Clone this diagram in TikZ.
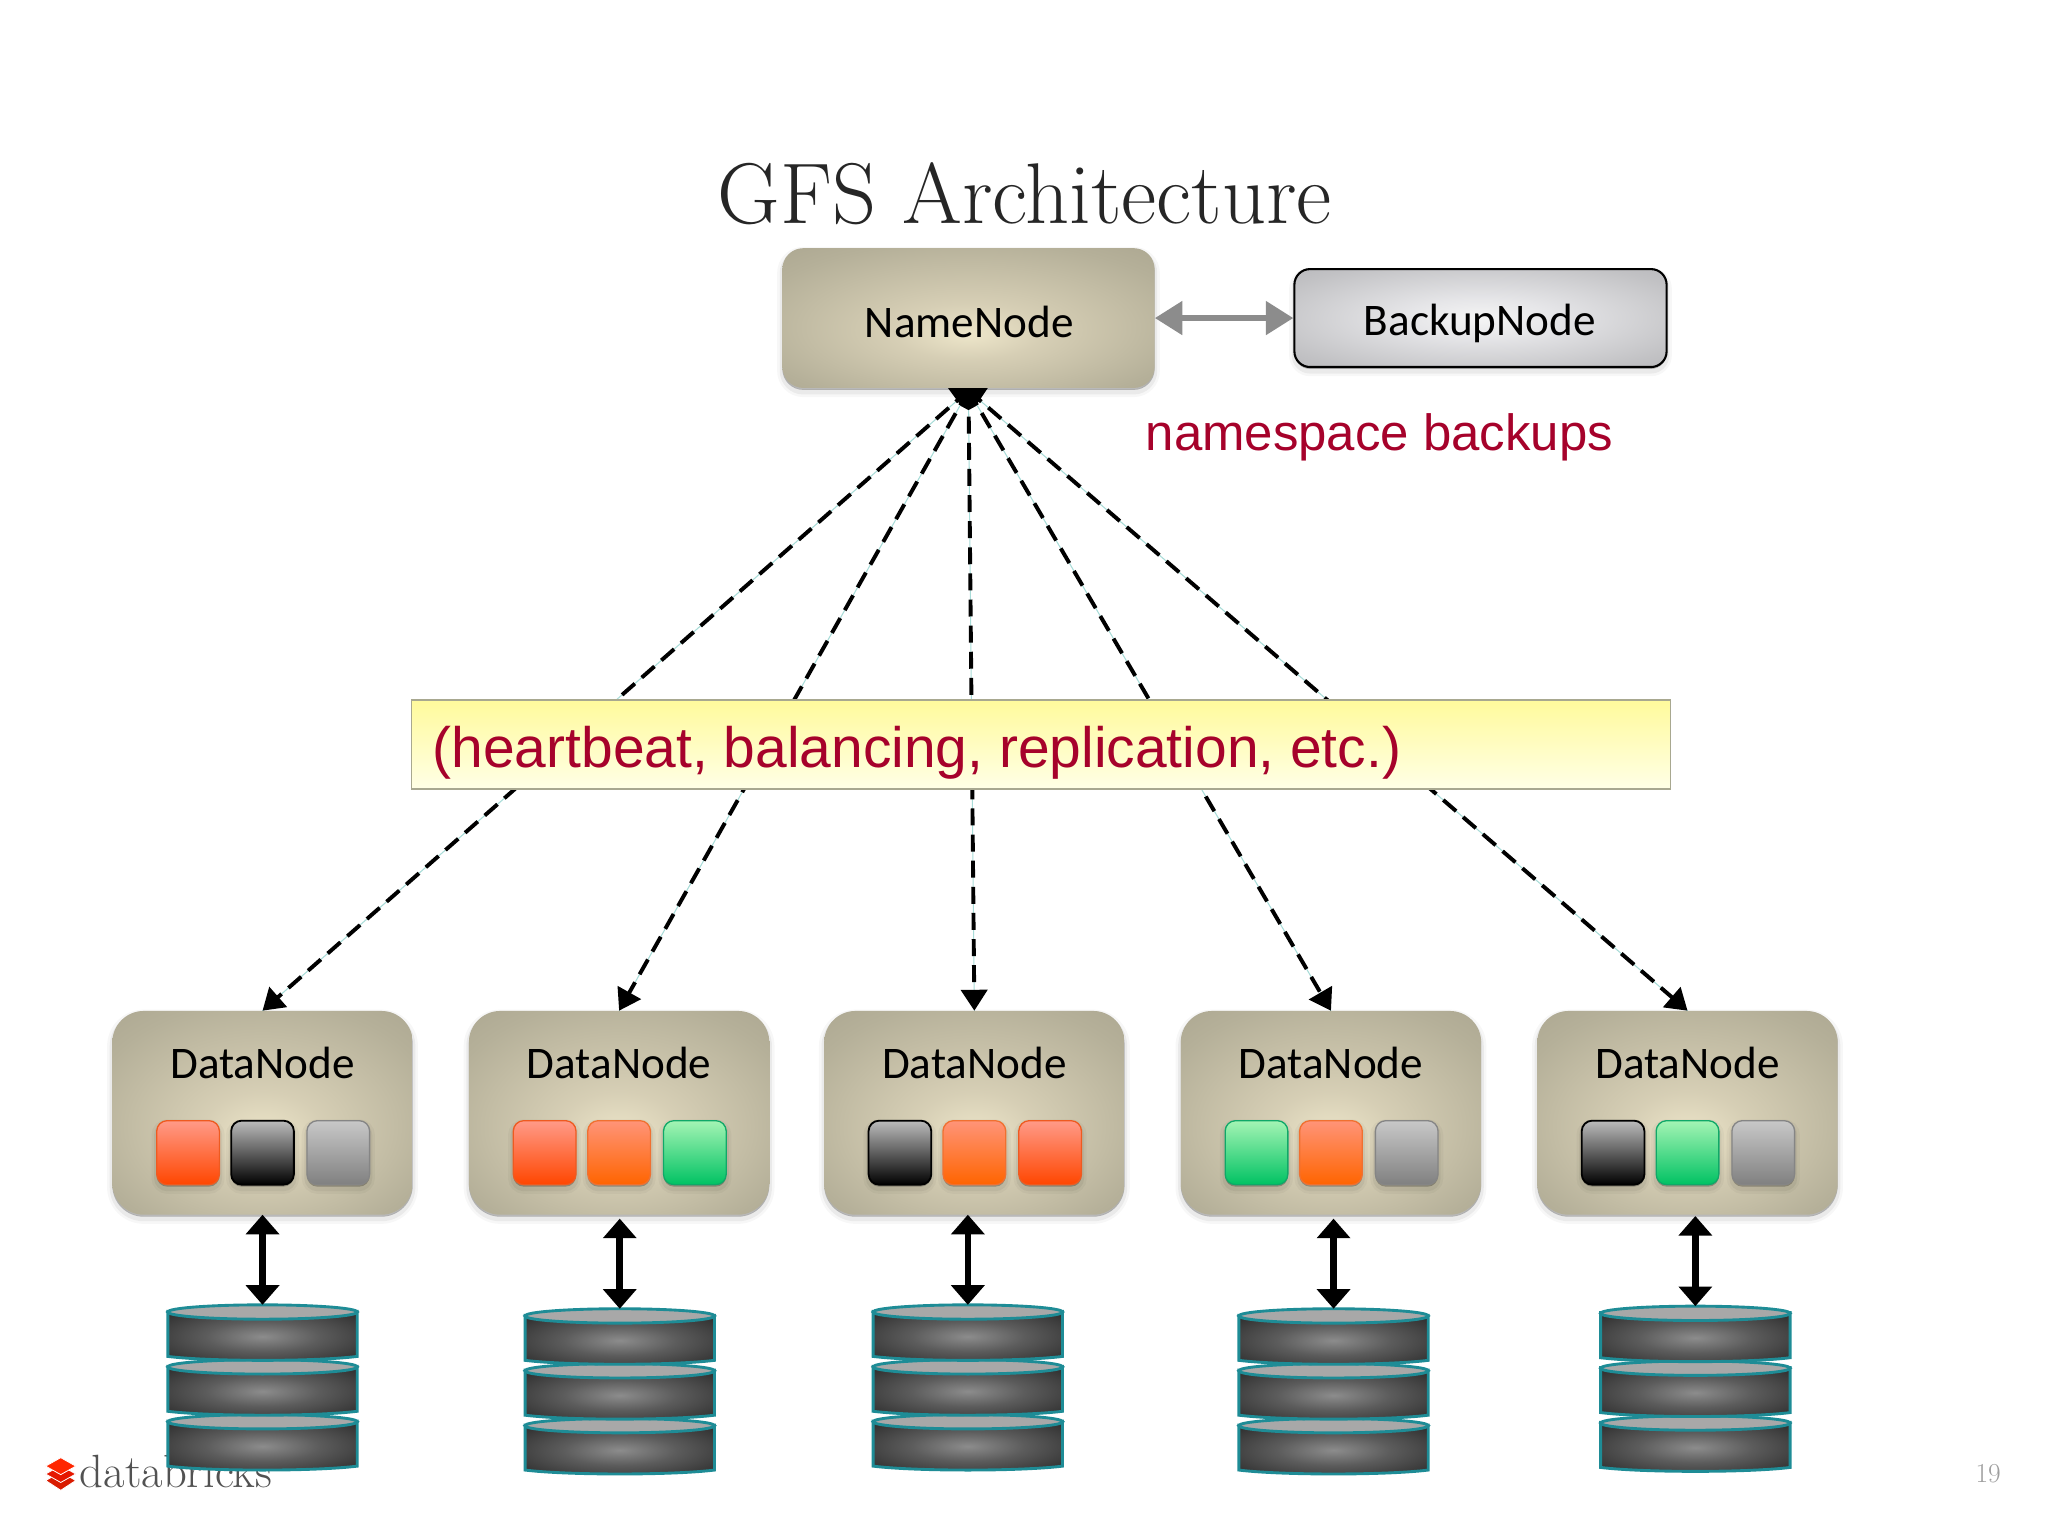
\documentclass[tikz,border=0pt]{standalone}
\usepackage{fontspec}
\usetikzlibrary{arrows.meta}
\newfontfamily\carl{Carlito}
\newfontfamily\ari{Liberation Sans}
\definecolor{redtxt}{HTML}{A6022B}
\definecolor{teal1}{HTML}{1E8C96}
\definecolor{thinc}{HTML}{A8DCD8}
\definecolor{rT}{HTML}{FF9A88}\definecolor{rB}{HTML}{FF4600}\definecolor{rD}{HTML}{EE5A20}
\definecolor{oT}{HTML}{FF9478}\definecolor{oB}{HTML}{FF6400}\definecolor{oD}{HTML}{F07030}
\definecolor{gT}{HTML}{A4F4B4}\definecolor{gB}{HTML}{00C263}\definecolor{gD}{HTML}{10A868}
\definecolor{kT}{HTML}{BCBCBC}\definecolor{yT}{HTML}{C8C8C8}\definecolor{yB}{HTML}{808080}\definecolor{yD}{HTML}{858585}
\definecolor{bandT}{HTML}{FFFA9C}\definecolor{bandB}{HTML}{FFFFE6}\definecolor{bandD}{HTML}{A8A890}
\pgfdeclareradialshading{ndshade}{\pgfpoint{0bp}{-6bp}}{rgb(0bp)=(.93,.90,.79); rgb(10bp)=(.84,.81,.71); rgb(30bp)=(.71,.69,.60); rgb(50bp)=(.62,.60,.52)}
\pgfdeclareradialshading{bkshade}{\pgfpoint{0bp}{0bp}}{rgb(0bp)=(.96,.96,.96); rgb(10bp)=(.90,.90,.91); rgb(30bp)=(.76,.76,.77); rgb(50bp)=(.65,.65,.67)}
\pgfdeclareradialshading{diskshade}{\pgfpoint{0bp}{0bp}}{rgb(0bp)=(.55,.55,.55); rgb(15bp)=(.36,.36,.36); rgb(32bp)=(.20,.20,.20); rgb(50bp)=(.10,.10,.10)}
\tikzset{
  softshadow/.style={
    preaction={draw=black,draw opacity=.03,line width=8,transform canvas={yshift=-3pt}},
    preaction={draw=black,draw opacity=.05,line width=4,transform canvas={yshift=-3pt}},
    preaction={fill=black,fill opacity=.25,transform canvas={yshift=-1.5pt}}},
  namebox/.style={softshadow,rounded corners=16,shading=ndshade,minimum width=285,minimum height=107,inner sep=0pt},
  backbox/.style={softshadow,rounded corners=12,draw=black,line width=1.6,shading=bkshade,minimum width=285,minimum height=75,inner sep=0pt},
  datanode/.style={softshadow,rounded corners=24,shading=ndshade,minimum width=230,minimum height=156,inner sep=0pt},
  nodelabel/.style={font=\carl\fontsize{34.6}{38}\selectfont,text=black,inner sep=0pt},
  block/.style={softshadow,rounded corners=8,minimum width=48,minimum height=49,inner sep=0pt,line width=1},
  cR/.style={top color=rT,bottom color=rB,draw=rD},
  cO/.style={top color=oT,bottom color=oB,draw=oD},
  cG/.style={top color=gT,bottom color=gB,draw=gD},
  cK/.style={top color=kT,bottom color=black,draw=black,line width=1.4},
  cY/.style={top color=yT,bottom color=yB,draw=yD},
  fan/.style={draw=black,line width=3,dash pattern=on 13pt off 7pt,
    -{Triangle[length=16pt,width=20pt]},
    preaction={draw=thinc,line width=.8,solid,arrows=-}},
  dbl/.style={draw=black,line width=5,{Triangle[length=15pt,width=25pt]}-{Triangle[length=15pt,width=25pt]}},
  grey/.style={draw=black!45,line width=4.5,{Triangle[length=21pt,width=25pt]}-{Triangle[length=21pt,width=25pt]}},
  disk/.style={draw=teal1,line width=2.2,shading=diskshade},
  disktop/.style={draw=teal1,line width=2.2,fill=black!34},
}
% one disk of a stack: centre x, top y
\newcommand\onedisk[2]{%
  \path[disk] (#1-72.5,#2+5) -- (#1-72.5,#2+39.5) .. controls (#1-40,#2+43.5) and (#1+40,#2+43.5) .. (#1+72.5,#2+39.5) -- (#1+72.5,#2+5) -- cycle;
  \path[disktop] (#1,#2+5.5) ellipse [x radius=72.5,y radius=5.5];}
\newcommand\dstack[3]{%
  \coordinate (c#1) at (#2,#3);
  \onedisk{#2}{#3+84}\onedisk{#2}{#3+42}\onedisk{#2}{#3}}
\newcommand\dnode[5]{%
  \node[datanode] (d#1) at (#2,852) {};
  \node[nodelabel] (dl#1) at (#2,813.5) {DataNode};
  \node[block,#3] (b#1a) at (#2-57,882.5) {};
  \node[block,#4] (b#1b) at (#2,882.5) {};
  \node[block,#5] (b#1c) at (#2+58,882.5) {};}
\begin{document}
\begin{tikzpicture}[x=1pt,y=-1pt]
\useasboundingbox (0,0) rectangle (1568,1176);
\fill[white] (0,0) rectangle (1568,1176);
% logo (under the first stack)
\begin{scope}[draw=white,line width=.6]
\filldraw[fill=red!75!orange!85!black] (46.5,1127) -- (58,1133.5) -- (46.5,1141) -- (35,1133.5) -- cycle;
\filldraw[fill=red!80!orange!90!black] (46.5,1122) -- (58,1128.5) -- (46.5,1135) -- (35,1128.5) -- cycle;
\filldraw[fill=red!70!orange] (46.5,1116) -- (58,1122.5) -- (46.5,1129) -- (35,1122.5) -- cycle;
\end{scope}
\node[anchor=base west,inner sep=0pt,text=black!68,font=\fontsize{35.7}{38}\selectfont] (logo) at (61,1139) {databricks};
\node[anchor=base east,inner sep=0pt,text=black!38,font=\fontsize{21}{24}\selectfont] (page) at (1532,1135) {19};
% title
\node[anchor=base,inner sep=0pt,text=black!85,font=\fontsize{66}{70}\selectfont\addfontfeatures{FakeBold=0.8}] (title) at (784.5,171) {GFS Architecture};
% data nodes
\dnode{1}{201}{cR}{cK}{cY}
\dnode{2}{474}{cR}{cO}{cG}
\dnode{3}{746}{cK}{cO}{cR}
\dnode{4}{1019}{cG}{cO}{cY}
\dnode{5}{1292}{cK}{cG}{cY}
% fan
\coordinate (fan) at (741.5,299);
\foreach \i in {1,...,5} \draw[fan] (fan) -- (d\i.north);
\fill[black] (725,296) -- (757,296) -- (747,311) -- (741.5,314) -- (736,311) -- cycle;
% top boxes
\node[namebox] (nn) at (741.5,243.5) {};
\node[nodelabel] (nnl) at (742,246.3) {NameNode};
\node[backbox] (bn) at (1133.5,243.5) {};
\node[nodelabel] (bnl) at (1133,248) {BackupNode};
\draw[grey] (nn.east) -- (bn.west);
\node[anchor=base west,inner sep=0pt,text=redtxt,font=\ari\fontsize{39}{42}\selectfont] (ns) at (877,345) {namespace backups};
% band
\node[draw=bandD,line width=1.2,top color=bandT,bottom color=bandB,minimum width=964,minimum height=68,inner sep=0pt] (band) at (797,570) {};
\node[anchor=base west,inner sep=0pt,text=redtxt,font=\ari\fontsize{43.6}{46}\selectfont] (bandt) at (331,587.5) {(heartbeat, balancing, replication, etc.)};
% stacks
\dstack{1}{201}{999}
\dstack{2}{474.5}{1002}
\dstack{3}{741}{999}
\dstack{4}{1021}{1002}
\dstack{5}{1298}{1000}
% links
\coordinate (t1) at (201,930);
\coordinate (t2) at (474.5,933);
\coordinate (t3) at (741,930);
\coordinate (t4) at (1021,933);
\coordinate (t5) at (1298,931);
\foreach \i in {1,...,5} \draw[dbl] (t\i) -- (c\i);
\end{tikzpicture}
\end{document}
